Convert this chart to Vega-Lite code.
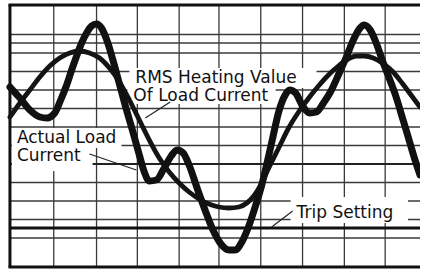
{
  "$schema": "https://vega.github.io/schema/vega-lite/v6.json",
  "width": 422,
  "height": 269,
  "autosize": {"type": "fit", "contains": "padding"},
  "padding": 0,
  "background": "white",
  "view": {"stroke": null},
  "config": {"axis": {"disable": true}},
  "datasets": {
    "curves": [
      {"s": "actual", "t": 10, "v": 87}, {"s": "actual", "t": 20, "v": 98}, {"s": "actual", "t": 30, "v": 110},
      {"s": "actual", "t": 40, "v": 117}, {"s": "actual", "t": 47, "v": 118}, {"s": "actual", "t": 55, "v": 113},
      {"s": "actual", "t": 61, "v": 100}, {"s": "actual", "t": 67, "v": 85}, {"s": "actual", "t": 72, "v": 70},
      {"s": "actual", "t": 77, "v": 56}, {"s": "actual", "t": 82, "v": 43}, {"s": "actual", "t": 87, "v": 33},
      {"s": "actual", "t": 92, "v": 26}, {"s": "actual", "t": 97, "v": 24}, {"s": "actual", "t": 102, "v": 28},
      {"s": "actual", "t": 108, "v": 42}, {"s": "actual", "t": 114, "v": 62}, {"s": "actual", "t": 120, "v": 84},
      {"s": "actual", "t": 126, "v": 106}, {"s": "actual", "t": 133, "v": 130}, {"s": "actual", "t": 140, "v": 155},
      {"s": "actual", "t": 145, "v": 172}, {"s": "actual", "t": 150, "v": 181}, {"s": "actual", "t": 157, "v": 180},
      {"s": "actual", "t": 165, "v": 168}, {"s": "actual", "t": 172, "v": 156}, {"s": "actual", "t": 178, "v": 150},
      {"s": "actual", "t": 184, "v": 153}, {"s": "actual", "t": 190, "v": 165}, {"s": "actual", "t": 198, "v": 188},
      {"s": "actual", "t": 206, "v": 210}, {"s": "actual", "t": 214, "v": 230}, {"s": "actual", "t": 222, "v": 244},
      {"s": "actual", "t": 230, "v": 250}, {"s": "actual", "t": 236, "v": 250}, {"s": "actual", "t": 243, "v": 242},
      {"s": "actual", "t": 250, "v": 226}, {"s": "actual", "t": 257, "v": 205}, {"s": "actual", "t": 263, "v": 185},
      {"s": "actual", "t": 269, "v": 160}, {"s": "actual", "t": 274, "v": 138}, {"s": "actual", "t": 280, "v": 112},
      {"s": "actual", "t": 286, "v": 96}, {"s": "actual", "t": 291, "v": 90}, {"s": "actual", "t": 297, "v": 93},
      {"s": "actual", "t": 304, "v": 106}, {"s": "actual", "t": 311, "v": 113}, {"s": "actual", "t": 318, "v": 112},
      {"s": "actual", "t": 325, "v": 103}, {"s": "actual", "t": 332, "v": 92}, {"s": "actual", "t": 340, "v": 75},
      {"s": "actual", "t": 348, "v": 57}, {"s": "actual", "t": 355, "v": 40}, {"s": "actual", "t": 361, "v": 29},
      {"s": "actual", "t": 366, "v": 25}, {"s": "actual", "t": 372, "v": 30}, {"s": "actual", "t": 378, "v": 43},
      {"s": "actual", "t": 384, "v": 60}, {"s": "actual", "t": 391, "v": 78}, {"s": "actual", "t": 398, "v": 97},
      {"s": "actual", "t": 405, "v": 120}, {"s": "actual", "t": 411, "v": 140}, {"s": "actual", "t": 417, "v": 160},
      {"s": "actual", "t": 422, "v": 175},
      {"s": "rms", "t": 10, "v": 117}, {"s": "rms", "t": 20, "v": 103}, {"s": "rms", "t": 30, "v": 90},
      {"s": "rms", "t": 40, "v": 77}, {"s": "rms", "t": 50, "v": 66}, {"s": "rms", "t": 60, "v": 58},
      {"s": "rms", "t": 70, "v": 53}, {"s": "rms", "t": 80, "v": 51}, {"s": "rms", "t": 90, "v": 53},
      {"s": "rms", "t": 100, "v": 58}, {"s": "rms", "t": 110, "v": 68}, {"s": "rms", "t": 120, "v": 82},
      {"s": "rms", "t": 130, "v": 100}, {"s": "rms", "t": 140, "v": 120}, {"s": "rms", "t": 150, "v": 140},
      {"s": "rms", "t": 160, "v": 158}, {"s": "rms", "t": 170, "v": 172}, {"s": "rms", "t": 180, "v": 183},
      {"s": "rms", "t": 190, "v": 192}, {"s": "rms", "t": 200, "v": 199}, {"s": "rms", "t": 210, "v": 204},
      {"s": "rms", "t": 220, "v": 207}, {"s": "rms", "t": 230, "v": 208}, {"s": "rms", "t": 240, "v": 207},
      {"s": "rms", "t": 248, "v": 203}, {"s": "rms", "t": 255, "v": 196}, {"s": "rms", "t": 262, "v": 185},
      {"s": "rms", "t": 270, "v": 168}, {"s": "rms", "t": 280, "v": 148}, {"s": "rms", "t": 290, "v": 128},
      {"s": "rms", "t": 300, "v": 112}, {"s": "rms", "t": 311, "v": 97}, {"s": "rms", "t": 320, "v": 86},
      {"s": "rms", "t": 330, "v": 75}, {"s": "rms", "t": 340, "v": 66}, {"s": "rms", "t": 350, "v": 59},
      {"s": "rms", "t": 358, "v": 56}, {"s": "rms", "t": 366, "v": 56}, {"s": "rms", "t": 375, "v": 58},
      {"s": "rms", "t": 384, "v": 63}, {"s": "rms", "t": 395, "v": 72}, {"s": "rms", "t": 404, "v": 83},
      {"s": "rms", "t": 413, "v": 95}, {"s": "rms", "t": 422, "v": 107}
    ],
    "hgrid": [
      {"v": 34.5}, {"v": 43}, {"v": 53}, {"v": 71.5}, {"v": 90}, {"v": 108.5}, {"v": 127},
      {"v": 145.5}, {"v": 182.5}, {"v": 201}, {"v": 219.5}, {"v": 238}
    ],
    "vgrid": [
      {"t": 54}, {"t": 97}, {"t": 138}, {"t": 180}, {"t": 220}, {"t": 262}, {"t": 304}, {"t": 346}, {"t": 387}
    ],
    "boxes": [
      {"x1": 130, "x2": 318, "y1": 68, "y2": 88},
      {"x1": 128, "x2": 277, "y1": 86, "y2": 104},
      {"x1": 12, "x2": 122, "y1": 128, "y2": 148},
      {"x1": 12, "x2": 93, "y1": 146, "y2": 171},
      {"x1": 292, "x2": 410, "y1": 197, "y2": 223}
    ],
    "leaders": [
      {"x1": 171, "y1": 102, "x2": 146, "y2": 118},
      {"x1": 90, "y1": 154, "x2": 137, "y2": 170},
      {"x1": 294, "y1": 211, "x2": 273, "y2": 227}
    ],
    "labels": [
      {"t": 136, "v": 83, "text": "RMS Heating Value"},
      {"t": 134, "v": 101, "text": "Of Load Current"},
      {"t": 17, "v": 143, "text": "Actual Load"},
      {"t": 17, "v": 161, "text": "Current"},
      {"t": 298, "v": 218, "text": "Trip Setting"}
    ]
  },
  "encoding": {},
  "layer": [
    {
      "data": {"name": "hgrid"},
      "mark": {"type": "rule", "stroke": "#3a3a3a", "strokeWidth": 1.3},
      "encoding": {
        "y": {"field": "v", "type": "quantitative", "scale": {"domain": [0, 269], "reverse": true, "nice": false, "zero": false}},
        "x": {"datum": 10, "type": "quantitative", "scale": {"domain": [0, 422], "nice": false, "zero": false}},
        "x2": {"datum": 422}
      }
    },
    {
      "data": {"name": "vgrid"},
      "mark": {"type": "rule", "stroke": "#3a3a3a", "strokeWidth": 1.3},
      "encoding": {
        "x": {"field": "t", "type": "quantitative"},
        "y": {"datum": 5, "type": "quantitative"},
        "y2": {"datum": 267}
      }
    },
    {
      "data": {"values": [{"v": 164}]},
      "mark": {"type": "rule", "stroke": "#222", "strokeWidth": 2.2},
      "encoding": {
        "y": {"field": "v", "type": "quantitative"},
        "x": {"datum": 10, "type": "quantitative"},
        "x2": {"datum": 422}
      }
    },
    {
      "data": {"values": [{"v": 228}]},
      "mark": {"type": "rule", "stroke": "#111", "strokeWidth": 3},
      "encoding": {
        "y": {"field": "v", "type": "quantitative"},
        "x": {"datum": 10, "type": "quantitative"},
        "x2": {"datum": 422}
      }
    },
    {
      "data": {"values": [{"v": 5}, {"v": 267}]},
      "mark": {"type": "rule", "stroke": "#111", "strokeWidth": 3},
      "encoding": {
        "y": {"field": "v", "type": "quantitative"},
        "x": {"datum": 8.5, "type": "quantitative"},
        "x2": {"datum": 422}
      }
    },
    {
      "data": {"values": [{"t": 10}]},
      "mark": {"type": "rule", "stroke": "#111", "strokeWidth": 3},
      "encoding": {
        "x": {"field": "t", "type": "quantitative"},
        "y": {"datum": 5, "type": "quantitative"},
        "y2": {"datum": 267}
      }
    },
    {
      "data": {"name": "boxes"},
      "mark": {"type": "rect", "fill": "white"},
      "encoding": {
        "x": {"field": "x1", "type": "quantitative"},
        "x2": {"field": "x2"},
        "y": {"field": "y1", "type": "quantitative"},
        "y2": {"field": "y2"}
      }
    },
    {
      "data": {"name": "curves"},
      "transform": [{"filter": "datum.s === 'rms'"}],
      "mark": {"type": "line", "stroke": "#141414", "strokeWidth": 4.8, "interpolate": "monotone", "strokeCap": "round", "strokeJoin": "round", "clip": true},
      "encoding": {
        "x": {"field": "t", "type": "quantitative"},
        "y": {"field": "v", "type": "quantitative"}
      }
    },
    {
      "data": {"name": "curves"},
      "transform": [{"filter": "datum.s === 'actual'"}],
      "mark": {"type": "line", "stroke": "#111", "strokeWidth": 7, "interpolate": "monotone", "strokeCap": "round", "strokeJoin": "round", "clip": true},
      "encoding": {
        "x": {"field": "t", "type": "quantitative"},
        "y": {"field": "v", "type": "quantitative"}
      }
    },
    {
      "data": {"name": "leaders"},
      "mark": {"type": "rule", "stroke": "#222", "strokeWidth": 1.2},
      "encoding": {
        "x": {"field": "x1", "type": "quantitative"},
        "y": {"field": "y1", "type": "quantitative"},
        "x2": {"field": "x2"},
        "y2": {"field": "y2"}
      }
    },
    {
      "data": {"name": "labels"},
      "mark": {"type": "text", "align": "left", "baseline": "alphabetic", "font": "DejaVu Sans", "fontSize": 17, "fill": "#111"},
      "encoding": {
        "x": {"field": "t", "type": "quantitative"},
        "y": {"field": "v", "type": "quantitative"},
        "text": {"field": "text"}
      }
    }
  ]
}
